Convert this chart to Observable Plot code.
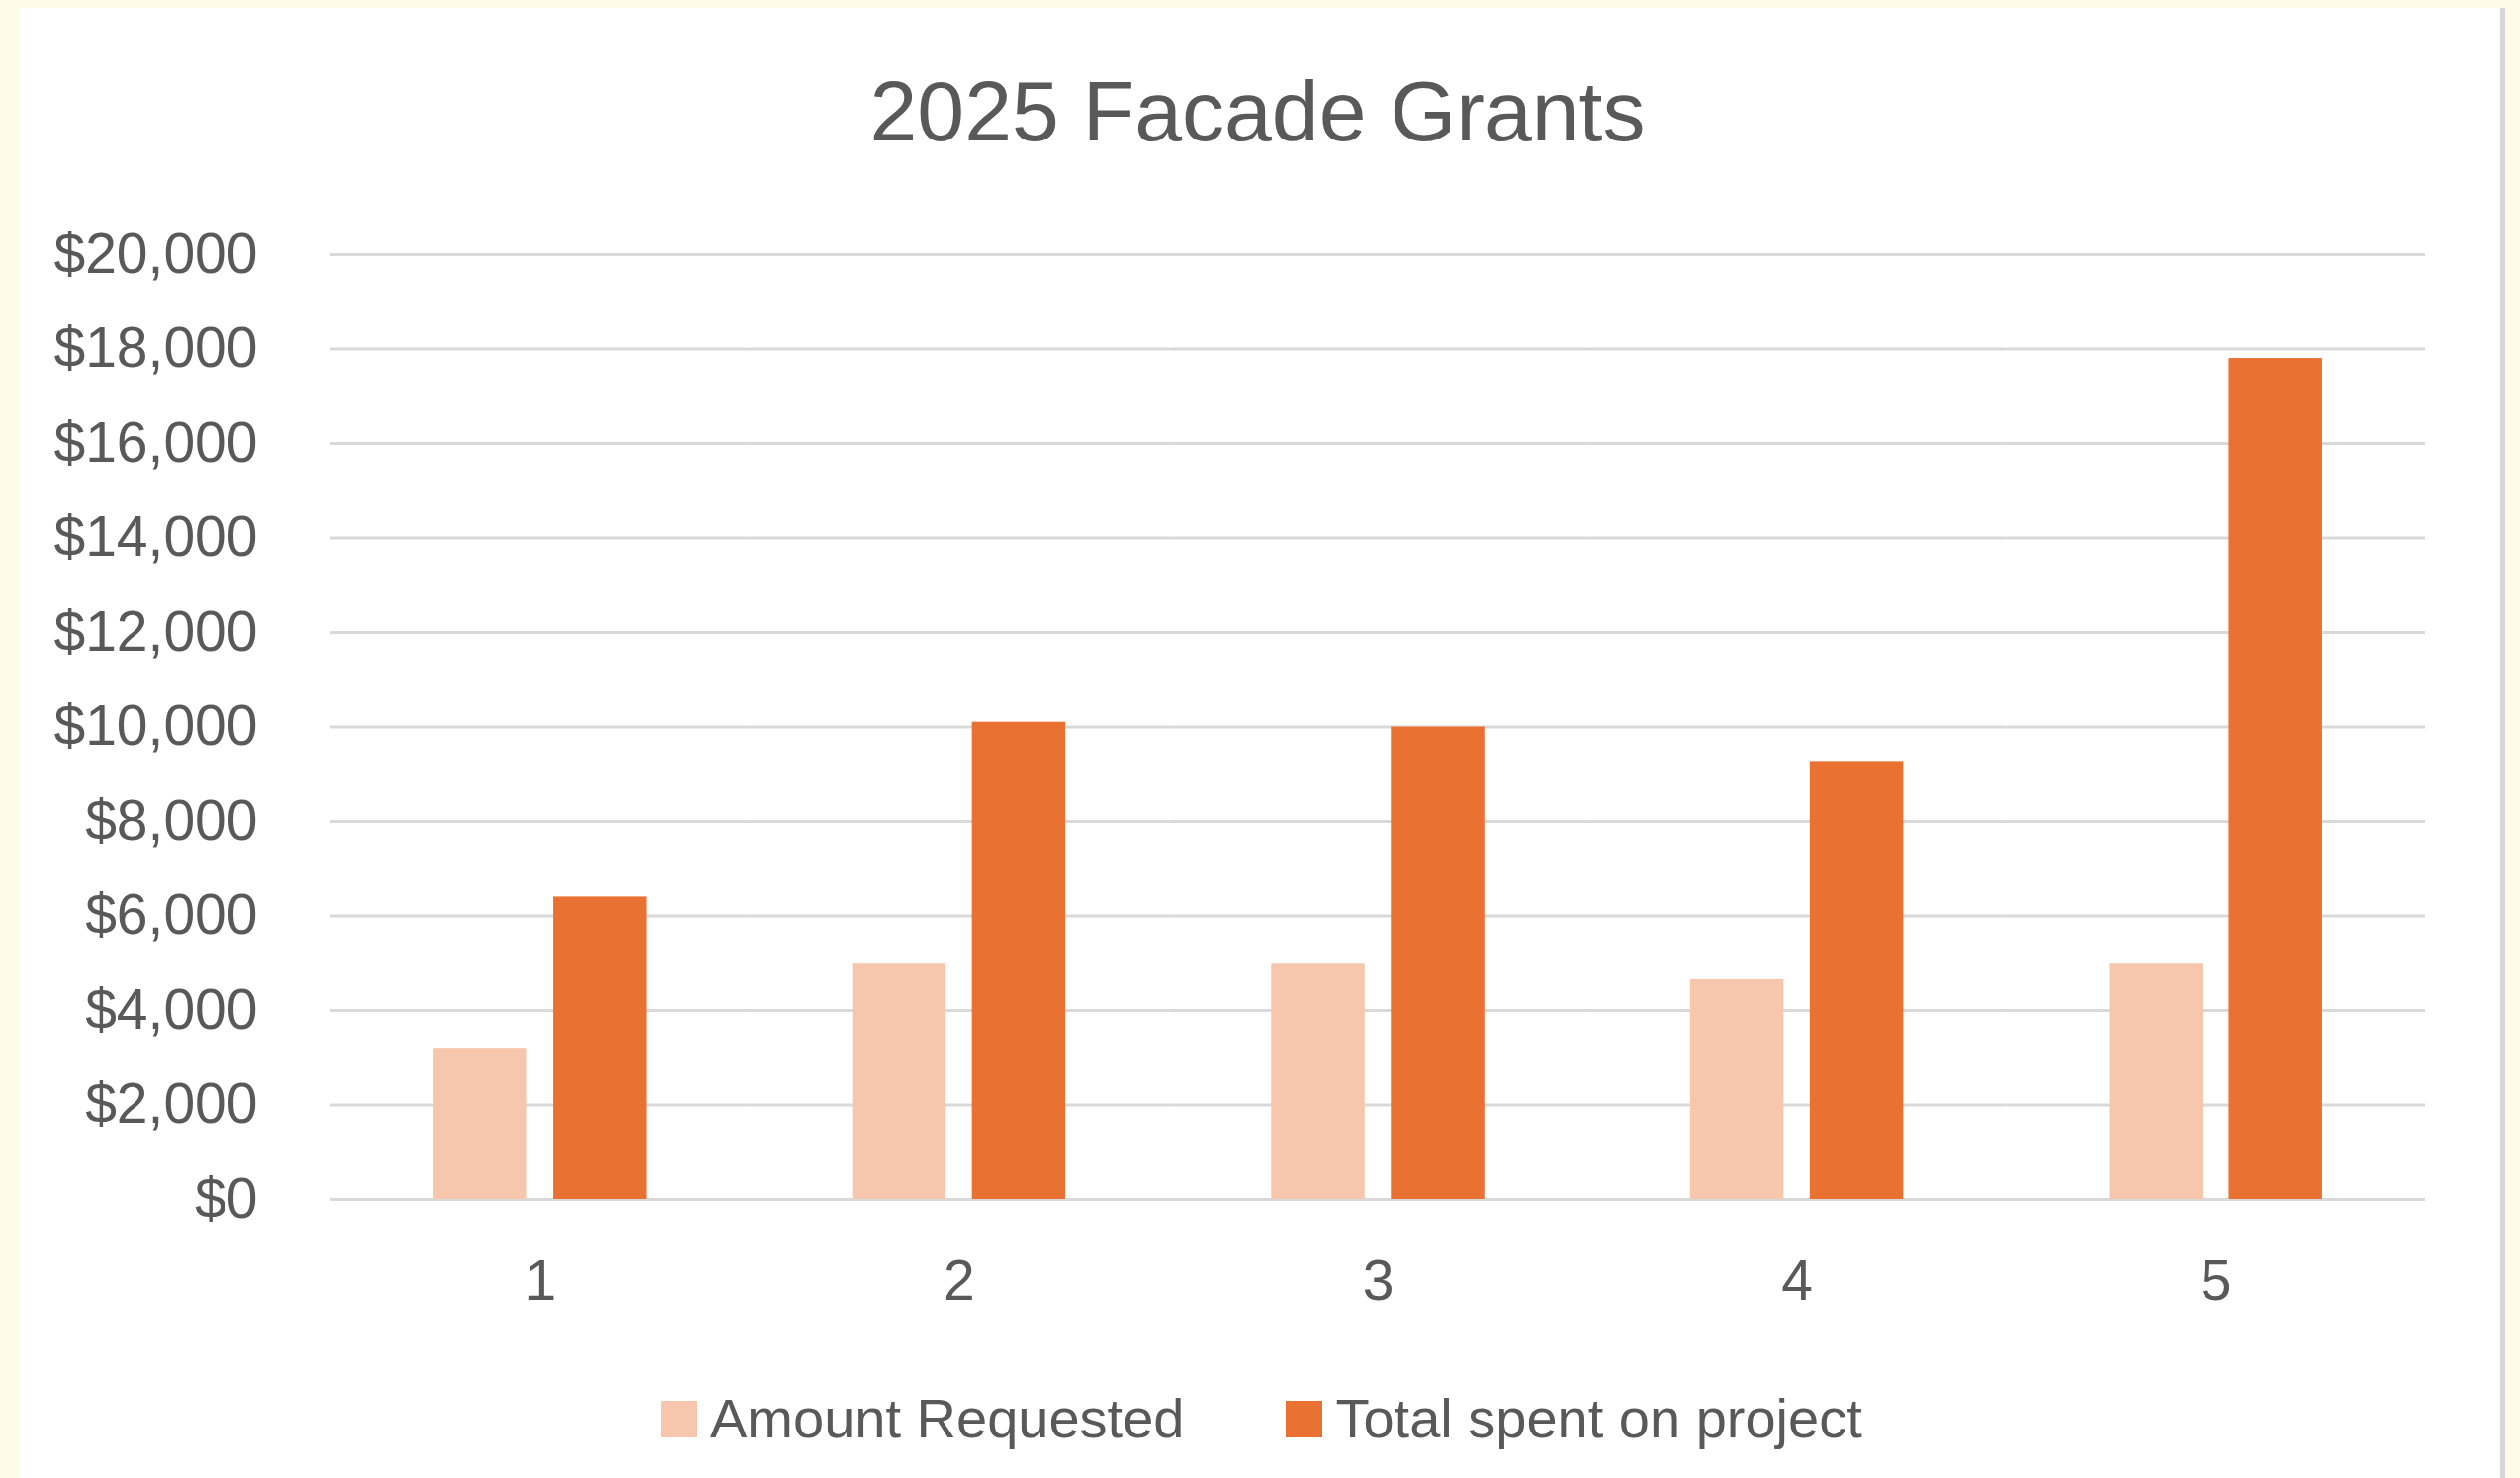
<!DOCTYPE html>
<html>
<head>
<meta charset="utf-8">
<script src="https://cdn.jsdelivr.net/npm/d3@7"></script>
<script src="https://cdn.jsdelivr.net/npm/@observablehq/plot@0.6"></script>
<style>
  html, body { margin: 0; padding: 0; }
  body { width: 2548px; height: 1494px; background: #FFFBEB; position: relative; overflow: hidden;
         font-family: 'Liberation Sans', Arial, sans-serif; color: #595959; }
  #panel { position: absolute; left: 19px; top: 8px; width: 2509px; height: 1486px; background: #FFFFFF; }
  #edge { position: absolute; left: 2528px; top: 8px; width: 5px; height: 1486px; background: #D6D6D6; }
  #title { position: absolute; left: 19px; top: 69px; width: 2505px; text-align: center;
           font-size: 86px; line-height: 1; color: #595959; }
  #chart { position: absolute; left: 19px; top: 200px; }
  #legend { position: absolute; left: 668px; top: 1406px; height: 56px; display: flex; align-items: center;
            font-size: 56px; line-height: 1; color: #595959; }
  .item { display: flex; align-items: center; }
  .sw { width: 37px; height: 37px; margin-right: 13px; }
</style>
</head>
<body>
<div id="panel"></div>
<div id="edge"></div>
<div id="title">2025 Facade Grants</div>
<div id="chart"></div>
<div id="legend"></div>
<script>
const projects = [1, 2, 3, 4, 5];
const amountRequested = [3200, 5000, 5000, 4650, 5000];
const totalSpent = [6400, 10100, 10000, 9270, 17800];
const seriesNames = ["Amount Requested", "Total spent on project"];
const seriesColors = ["#F6C6AD", "#E97132"];
const yTicks = [0, 2000, 4000, 6000, 8000, 10000, 12000, 14000, 16000, 18000, 20000];

const rows = projects.flatMap((p, i) => [
  {project: p, series: seriesNames[0], value: amountRequested[i]},
  {project: p, series: seriesNames[1], value: totalSpent[i]}
]);

const chart = Plot.plot({
  width: 2509,
  height: 1140,
  marginLeft: 315,
  marginRight: 76,
  marginTop: 57,
  marginBottom: 128,
  style: {fontFamily: "'Liberation Sans', Arial, sans-serif", fontSize: "57px", color: "#595959", background: "transparent", overflow: "visible"},
  facet: {data: rows, x: "project"},
  fx: {domain: projects, padding: 0, round: false, axis: "bottom", tickSize: 0, tickPadding: 61, label: null},
  x: {domain: seriesNames, paddingInner: 0.219, paddingOuter: 0.86, round: false, axis: null},
  y: {domain: [0, 20000], ticks: yTicks, tickFormat: d3.format("$,.0f"), tickSize: 0, tickPadding: 74, label: null},
  color: {domain: seriesNames, range: seriesColors},
  marks: [
    Plot.ruleY(yTicks, {stroke: "#D9D9D9", strokeWidth: 3}),
    Plot.barY(rows, {x: "series", y: "value", fill: "series"})
  ]
});
document.getElementById("chart").appendChild(chart);

const legend = document.getElementById("legend");
seriesNames.forEach((name, i) => {
  const item = document.createElement("div");
  item.className = "item";
  if (i > 0) item.style.marginLeft = "103px";
  const sw = document.createElement("div");
  sw.className = "sw";
  sw.style.background = seriesColors[i];
  const label = document.createElement("span");
  label.textContent = name;
  item.appendChild(sw);
  item.appendChild(label);
  legend.appendChild(item);
});
</script>
</body>
</html>
